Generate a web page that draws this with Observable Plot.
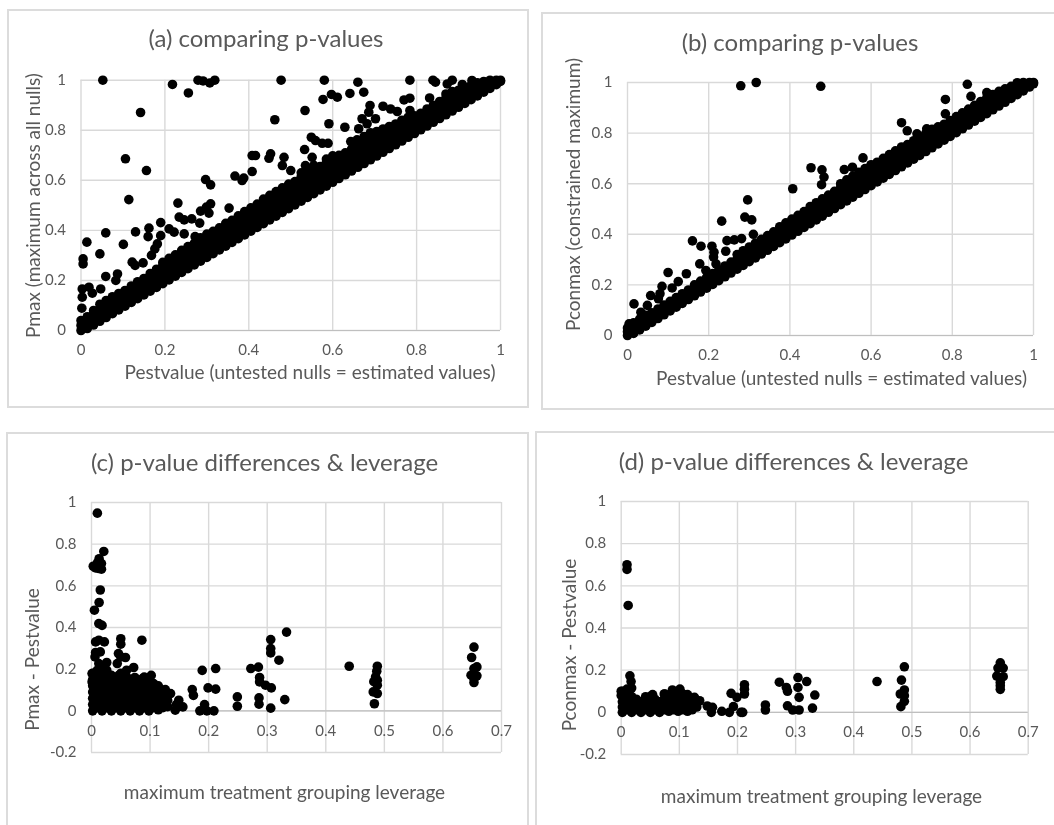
<!DOCTYPE html>
<html><head><meta charset="utf-8">
<script src="https://cdn.jsdelivr.net/npm/d3@7"></script>
<script src="https://cdn.jsdelivr.net/npm/@observablehq/plot@0.6"></script>
<style>
html,body{margin:0;padding:0;background:#fff;overflow:hidden}
#page{position:relative;width:1054px;height:825px;overflow:hidden;background:#fff;filter:blur(.4px)}
.box{position:absolute;box-sizing:border-box;border:2px solid #dcdcdc;background:#fff}
.box svg{position:absolute;left:-2px;top:-2px;overflow:visible;background:transparent;max-width:none!important}
</style></head><body><div id="page"></div>
<script>
const ticks01 = [0,.2,.4,.6,.8,1];
const ticksLev = [0,.1,.2,.3,.4,.5,.6,.7];
const ticksDiff = [-.2,0,.2,.4,.6,.8,1];

// (a) dense band: each row is [Pestvalue, Pmax, Pmax, ...]
const bandA = [[0,0,.02,.04],[.015,.008,.03,.055],[.03,.022,.045,.07,.08],[.045,.037,.06,.085,.105],[.06,.052,.076,.1,.12],[.075,.067,.09,.115,.135],[.09,.082,.106,.13,.148],[.105,.097,.12,.145,.16],[.12,.112,.136,.16,.178],[.135,.127,.15,.175,.195],[.15,.142,.166,.19,.208],[.165,.157,.18,.205,.228],[.18,.172,.196,.22,.245],[.195,.187,.21,.235,.26,.272],[.21,.202,.226,.25,.274,.288],[.225,.217,.24,.265,.29,.302],[.24,.232,.256,.28,.304,.32],[.255,.247,.27,.295,.32,.335],[.27,.262,.286,.31,.334,.348],[.285,.277,.3,.325,.35,.37],[.3,.292,.316,.34,.364,.385],[.315,.307,.33,.355,.38,.396],[.33,.322,.346,.37,.394,.41],[.345,.337,.36,.385,.41,.428],[.36,.352,.376,.4,.424,.44],[.375,.367,.39,.415,.44,.458],[.39,.382,.406,.43,.454,.475],[.405,.397,.42,.445,.47,.49],[.42,.412,.436,.46,.484,.505],[.435,.427,.45,.475,.5,.525],[.45,.442,.466,.49,.514,.54],[.465,.457,.48,.505,.53,.555],[.48,.472,.496,.52,.544,.57],[.495,.487,.51,.535,.56,.585],[.51,.502,.526,.55,.574,.595],[.525,.517,.54,.565,.59,.615,.63],[.54,.532,.556,.58,.604,.628,.645],[.555,.547,.57,.595,.62,.644,.66],[.57,.562,.586,.61,.634,.655],[.585,.577,.6,.625,.65,.672,.685],[.6,.592,.616,.64,.664,.688,.698],[.615,.607,.63,.655,.68,.7],[.63,.622,.646,.67,.694,.71],[.645,.637,.66,.685,.71,.725],[.66,.652,.676,.7,.724,.745,.755],[.675,.667,.69,.715,.74,.762,.775],[.69,.682,.706,.73,.754,.778,.79],[.705,.697,.72,.745,.77,.795],[.72,.712,.736,.76,.784,.805],[.735,.727,.75,.775,.8,.815],[.75,.742,.766,.79,.812,.825],[.765,.757,.78,.805,.83,.84],[.78,.772,.796,.82,.842,.852],[.795,.787,.81,.835,.858],[.81,.802,.826,.85,.868],[.825,.817,.84,.865,.885],[.84,.832,.856,.88,.9],[.855,.847,.87,.895,.915],[.87,.862,.886,.91,.93,.945],[.885,.877,.9,.925,.945,.955],[.9,.892,.916,.94,.96],[.915,.907,.93,.955,.97],[.93,.922,.946,.965,.98],[.945,.937,.96,.98,.99],[.96,.952,.975,.995],[.975,.967,.985,1],[.99,.982,1],[1,.995,1]];
const outA = [[.052,1],[.218,.983],[.256,.949],[.279,1],[.291,.997],[.307,.989],[.319,1],[.477,1],[.58,1],[.66,.992],[.784,1],[.839,1],[.845,.992],[.873,.985],[.885,1],[.909,.983],[.932,.999],[.142,.871],[.462,.842],[.534,.879],[.577,.923],[.597,.943],[.611,.932],[.641,.947],[.674,.952],[.831,.929],[.784,.928],[.77,.921],[.72,.896],[.738,.885],[.754,.875],[.689,.899],[.686,.872],[.67,.846],[.682,.826],[.662,.806],[.702,.846],[.629,.812],[.591,.826],[.784,.879],[.549,.772],[.559,.759],[.575,.748],[.589,.748],[.533,.723],[.551,.692],[.535,.659],[.484,.692],[.452,.706],[.448,.688],[.408,.699],[.416,.699],[.48,.659],[.5,.639],[.408,.635],[.367,.617],[.384,.599],[.388,.609],[.106,.686],[.156,.639],[.297,.603],[.309,.582],[.114,.523],[.231,.509],[.309,.506],[.299,.493],[.285,.477],[.305,.469],[.353,.489],[.234,.453],[.246,.442],[.264,.446],[.283,.429],[.19,.431],[.162,.409],[.16,.375],[.13,.394],[.21,.406],[.222,.393],[.246,.386],[.272,.375],[.059,.39],[.014,.353],[.101,.344],[.045,.306],[.005,.286],[.005,.266],[.19,.379],[.182,.346],[.176,.326],[.168,.3],[.122,.273],[.129,.26],[.148,.27],[.087,.226],[.059,.216],[.083,.2],[.019,.173],[.003,.166],[.047,.166],[.027,.149],[.003,.133],[.002,.089],[.643,.755],[.658,.762]];

// (b) dense band: each row is [Pestvalue, Pconmax, Pconmax, ...]
const bandB = [[0,0,.015,.03],[.015,.008,.028,.05],[.03,.022,.042,.065],[.045,.037,.057,.08],[.06,.052,.072,.09],[.075,.067,.087,.105],[.09,.082,.102,.12],[.105,.097,.117,.135],[.12,.112,.132,.15],[.135,.127,.147,.165],[.15,.142,.162,.18],[.165,.157,.177,.2],[.18,.172,.192,.215],[.195,.187,.207,.23],[.21,.202,.222,.245],[.225,.217,.237,.26],[.24,.232,.252,.275],[.255,.247,.267,.29],[.27,.262,.282,.302,.32],[.285,.277,.297,.317,.335],[.3,.292,.312,.332,.35],[.315,.307,.327,.347,.365],[.33,.322,.342,.362,.38],[.345,.337,.357,.377,.395],[.36,.352,.372,.392,.41],[.375,.367,.387,.407,.43],[.39,.382,.402,.422,.445],[.405,.397,.417,.437,.46],[.42,.412,.432,.452,.475],[.435,.427,.447,.467,.49],[.45,.442,.462,.482,.51],[.465,.457,.477,.497,.525],[.48,.472,.492,.512,.54],[.495,.487,.507,.527,.555],[.51,.502,.522,.542,.57],[.525,.517,.537,.557,.585,.6],[.54,.532,.552,.572,.595,.615],[.555,.547,.567,.587,.61,.63],[.57,.562,.582,.602,.625,.645],[.585,.577,.597,.617,.64,.66],[.6,.592,.612,.632,.655,.672],[.615,.607,.627,.647,.67,.685],[.63,.622,.642,.662,.685,.7],[.645,.637,.657,.677,.7,.715],[.66,.652,.672,.692,.712,.73],[.675,.667,.687,.707,.727,.745],[.69,.682,.702,.722,.742,.755],[.705,.697,.717,.737,.757,.77],[.72,.712,.732,.752,.772,.785],[.735,.727,.747,.767,.787,.8],[.75,.742,.762,.782,.802,.815],[.765,.757,.777,.797,.817,.825],[.78,.772,.792,.812,.835],[.795,.787,.807,.827,.85],[.81,.802,.822,.842,.865],[.825,.817,.837,.857,.88],[.84,.832,.852,.872,.895],[.855,.847,.867,.887,.91],[.87,.862,.882,.902,.925],[.885,.877,.897,.917,.94,.96],[.9,.892,.912,.932,.952],[.915,.907,.927,.947,.965],[.93,.922,.942,.962,.975],[.945,.937,.957,.977,.985],[.96,.952,.972,.995],[.975,.967,.987,1],[.99,.982,1],[1,.995,1]];
const outB = [[.279,.987],[.317,1],[.476,.985],[.837,.993],[.846,.945],[.783,.933],[.783,.876],[.675,.841],[.689,.809],[.713,.797],[.737,.817],[.58,.702],[.6,.675],[.534,.656],[.554,.665],[.452,.663],[.479,.655],[.484,.626],[.478,.596],[.407,.58],[.296,.536],[.289,.468],[.306,.457],[.232,.452],[.31,.4],[.16,.374],[.181,.353],[.208,.353],[.213,.329],[.212,.31],[.245,.375],[.263,.378],[.281,.383],[.242,.333],[.178,.283],[.193,.257],[.218,.283],[.1,.249],[.145,.244],[.125,.213],[.085,.194],[.11,.188],[.08,.165],[.057,.158],[.076,.145],[.016,.125],[.033,.092],[.049,.119],[.004,.046],[.016,.046],[.96,.999],[.887,.955]];

// (c) dense block: each row is [leverage, difference, difference, ...]
const blockC = [[.002,0,.03,.06,.09,.12,.15,.18],[.01,.015,.045,.075,.105,.135,.165,.195],[.018,0,.03,.06,.09,.12,.15,.18,.21],[.026,.015,.045,.075,.105,.135,.165,.195],[.034,0,.03,.06,.09,.12,.14,.17],[.042,.015,.045,.075,.105,.135,.16],[.05,0,.03,.06,.09,.12,.15,.18],[.058,.015,.045,.075,.105,.135],[.066,0,.03,.06,.09,.12,.15],[.074,.015,.045,.075,.105,.135,.16],[.082,0,.03,.06,.09,.12],[.09,.015,.045,.075,.105,.13],[.098,0,.03,.06,.09,.12,.15],[.106,.015,.045,.075,.1],[.114,.005,.03,.06,.09,.12],[.122,.015,.045,.075,.095],[.13,.02,.05,.08]];
const outC = [[.01,.949],[.021,.765],[.013,.73],[.01,.71],[.017,.707],[.003,.694],[.007,.686],[.0125,.683],[.017,.68],[.015,.58],[.013,.52],[.005,.483],[.0125,.419],[.018,.41],[.0125,.339],[.007,.331],[.022,.331],[.05,.346],[.05,.32],[.086,.339],[.333,.378],[.306,.342],[.306,.299],[.306,.278],[.32,.243],[.272,.203],[.285,.21],[.287,.16],[.287,.139],[.297,.123],[.307,.11],[.286,.062],[.286,.032],[.306,.013],[.33,.054],[.249,.067],[.249,.022],[.189,.194],[.212,.203],[.199,.11],[.212,.104],[.172,.102],[.174,.074],[.193,.03],[.185,0],[.197,0],[.209,0],[.44,.214],[.488,.214],[.487,.19],[.485,.163],[.488,.147],[.482,.14],[.488,.123],[.481,.091],[.488,.083],[.483,.034],[.653,.306],[.649,.256],[.658,.211],[.653,.203],[.648,.171],[.658,.168],[.653,.155],[.653,.136],[.072,.208],[.06,.195],[.06,.163],[.047,.171],[.046,.275],[.044,.227],[.058,.256],[.05,.259],[.006,.259],[.015,.283],[.007,.28],[.0125,.227],[.026,.232],[.001,.179],[.001,.139],[.026,.171],[.087,.155],[.102,.17],[.106,.131],[.09,.162],[.126,.102],[.135,.083],[.149,.051],[.156,.019],[.143,.003],[.145,.03]];

// (d) dense block: each row is [leverage, difference, difference, ...]
const blockD = [[.002,0,.025,.05,.075,.1],[.01,.012,.037,.062,.087,.1],[.018,0,.025,.05,.075],[.026,.012,.037,.062],[.034,0,.025,.05],[.042,.012,.037,.062],[.05,0,.025,.05,.075],[.058,.012,.037,.062],[.066,0,.025,.05],[.074,.012,.037,.062,.087],[.082,.005,.025,.05,.075],[.09,.012,.037,.062,.09],[.098,.005,.025,.05,.075,.1],[.106,.012,.037,.062,.087],[.114,.005,.025,.05,.075],[.122,.012,.037,.062],[.13,.025,.05]];
const outD = [[.01,.70],[.01,.678],[.012,.507],[.015,.173],[.017,.146],[.018,.115],[.01,.11],[0,.1],[0,.08],[.487,.216],[.482,.153],[.487,.106],[.48,.087],[.487,.079],[.487,.052],[.481,.027],[.44,.146],[.652,.235],[.648,.21],[.657,.21],[.646,.172],[.657,.169],[.652,.142],[.652,.126],[.652,.109],[.272,.143],[.284,.118],[.286,.1],[.286,.031],[.295,.011],[.306,.011],[.304,.165],[.319,.146],[.304,.118],[.306,.071],[.333,.082],[.329,.02],[.248,.035],[.248,.011],[.212,.131],[.212,.11],[.212,.087],[.189,.09],[.199,.071],[.193,.027],[.186,0],[.206,0],[.209,0],[.173,.005],[.075,.087],[.088,.106],[.101,.11],[.114,.084],[.126,.071],[.135,.055],[.148,.03],[.157,.024],[.155,0],[.054,.084],[.042,.074]];

const expand = rows => rows.flatMap(([x, ...ys]) => ys.map(y => [x, y]));
const FONT = "Lato, 'Open Sans', sans-serif", GREY = "#595959", GRID = "#d9d9d9", AXIS = "#bfbfbf";
const page = document.getElementById("page");

function panel(p) {
  const box = document.createElement("div");
  box.className = "box";
  Object.assign(box.style, {left:p.box[0]+"px", top:p.box[1]+"px", width:(p.box[2]-p.box[0])+"px", height:(p.box[3]-p.box[1])+"px"});
  const [L,T,R,B] = p.box, [x0,y1,x1,y0] = p.frame;
  const cx = (x0+x1)/2, cy = (y0+y1)/2;
  const chart = Plot.plot({
    width:R-L, height:B-T,
    marginLeft:x0-L, marginRight:R-x1, marginTop:y1-T, marginBottom:B-y0,
    style:{fontFamily:FONT, background:"transparent", overflow:"visible", maxWidth:"none"},
    x:{domain:p.xd, label:null},
    y:{domain:p.yd, label:null},
    marks:[
      Plot.gridX(p.xt,{stroke:GRID, strokeOpacity:1, strokeWidth:1.4}),
      Plot.gridY(p.yt,{stroke:GRID, strokeOpacity:1, strokeWidth:1.4}),
      Plot.ruleY([0],{stroke:AXIS, strokeWidth:1.2}),
      Plot.axisY(p.yt,{tickSize:0, tickPadding:15, tickFormat:String, fontSize:15, fill:GREY, label:null}),
      Plot.axisX(p.xt,{tickSize:0, tickPadding:14, tickFormat:String, fontSize:15, fill:GREY, label:null, dy:p.axisDy||0}),
      Plot.dot(expand(p.band),{x:d=>d[0], y:d=>d[1], r:4.8, fill:"#000", stroke:"none"}),
      Plot.dot(p.out,{x:d=>d[0], y:d=>d[1], r:4.8, fill:"#000", stroke:"none"}),
      Plot.text([p.title],{frameAnchor:"top", textAnchor:"middle", dx:p.tc[0]-cx, dy:p.tc[1]-y1, fontSize:24, fill:GREY, lineAnchor:"middle"}),
      Plot.text([p.xl],{frameAnchor:"bottom", textAnchor:"middle", dx:p.xc[0]-cx, dy:p.xc[1]-y0, fontSize:19, fill:GREY, lineAnchor:"middle"}),
      Plot.text([p.yl],{frameAnchor:"left", textAnchor:"middle", rotate:-90, dx:p.yc[0]-x0, dy:p.yc[1]-cy, fontSize:19, fill:GREY, lineAnchor:"middle"})
    ]
  });
  box.appendChild(chart);
  page.appendChild(box);
}

panel({box:[7,9,529,408], frame:[80.5,79.7,500,330], xd:[0,1], yd:[0,1], xt:ticks01, yt:ticks01, band:bandA, out:outA,
  title:"(a) comparing p-values", tc:[265.5,39], xl:"Pestvalue (untested nulls = estimated values)", xc:[309.5,372.7], yl:"Pmax (maximum across all nulls)", yc:[33,205]});
panel({box:[541,12,1060,410], frame:[627,82,1033,335], xd:[0,1], yd:[0,1], xt:ticks01, yt:ticks01, band:bandB, out:outB,
  title:"(b) comparing p-values", tc:[799.5,43], xl:"Pestvalue (untested nulls = estimated values)", xc:[841,378], yl:"Pconmax (constrained maximum)", yc:[573.7,194]});
panel({box:[6,432,529,830], frame:[91,502,501,752], xd:[0,.7], yd:[-.2,1], xt:ticksLev, yt:ticksDiff, band:blockC, out:outC, axisDy:-41,
  title:"(c) p-value differences & leverage", tc:[264,462.7], xl:"maximum treatment grouping leverage", xc:[284,792.7], yl:"Pmax - Pestvalue", yc:[32.7,659]});
panel({box:[535,431,1060,830], frame:[620.7,501,1027.7,754], xd:[0,.7], yd:[-.2,1], xt:ticksLev, yt:ticksDiff, band:blockD, out:outD, axisDy:-42,
  title:"(d) p-value differences & leverage", tc:[793,461.7], xl:"maximum treatment grouping leverage", xc:[821,796], yl:"Pconmax - Pestvalue", yc:[569.3,644.5]});
</script></body></html>
